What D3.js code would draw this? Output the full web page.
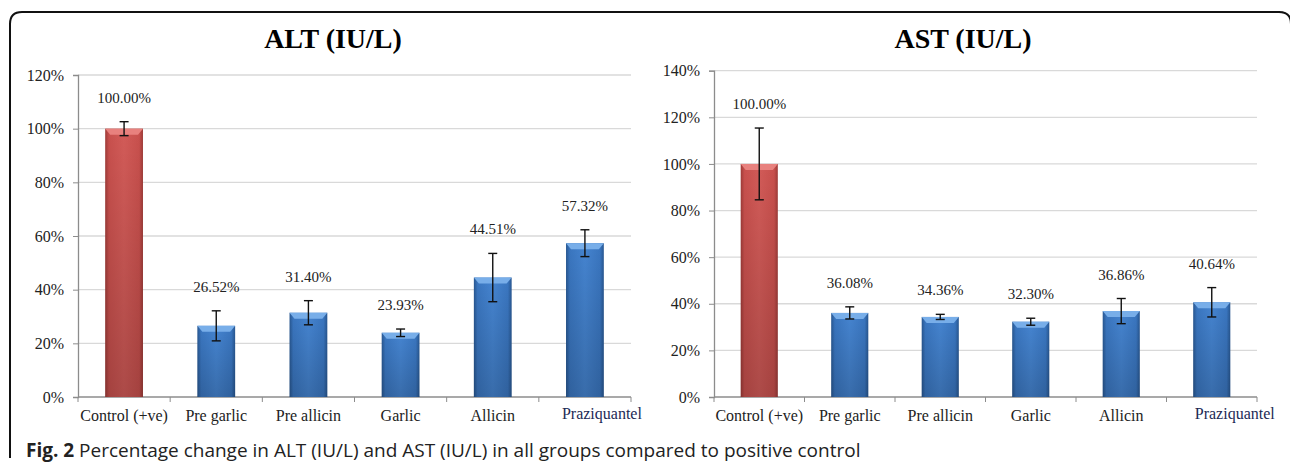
<!DOCTYPE html>
<html>
<head>
<meta charset="utf-8">
<script src="https://cdn.jsdelivr.net/npm/d3@7"></script>
<style>
  body { margin: 0; background: #fff; }
  svg { display: block; }
</style>
</head>
<body>
<div id="chart-area"></div>
<script>
// data
const groups = ['Control (+ve)', 'Pre garlic', 'Pre allicin', 'Garlic', 'Allicin', 'Praziquantel'];
const altValues = [100, 26.52, 31.40, 23.93, 44.51, 57.32];
const altErrors = [2.6, 5.6, 4.5, 1.4, 9.0, 5.0];
const astValues = [100, 36.08, 34.36, 32.30, 36.86, 40.64];
const astErrors = [15.4, 2.6, 1.1, 1.5, 5.4, 6.3];
const altTicks = [0, 20, 40, 60, 80, 100, 120];
const astTicks = [0, 20, 40, 60, 80, 100, 120, 140];

const width = 1290, height = 467;
const serif = '"Liberation Serif", "Times New Roman", serif';

let svg = d3.select('#chart-area')
  .append('svg')
  .attr('width', width)
  .attr('height', height)

// gradients for the bevelled bars
let defs = svg.append('defs')
function sideGrad(id, edge, mid, center) {
  let g = defs.append('linearGradient').attr('id', id)
    .attr('x1', 0).attr('x2', 1).attr('y1', 0).attr('y2', 0)
  ;[[0, edge], [0.1, mid], [0.5, center], [0.9, mid], [1, edge]].forEach(s =>
    g.append('stop').attr('offset', s[0]).attr('stop-color', s[1]))
}
sideGrad('redGrad', '#9e3b38', '#c8504d', '#d25b58')
sideGrad('blueGrad', '#285791', '#3a76c0', '#4584d0')
let shade = defs.append('linearGradient').attr('id', 'shade')
  .attr('x1', 0).attr('x2', 0).attr('y1', 0).attr('y2', 1)
shade.append('stop').attr('offset', 0).attr('stop-color', '#000').attr('stop-opacity', 0)
shade.append('stop').attr('offset', 1).attr('stop-color', '#000').attr('stop-opacity', 0.18)

// outer frame (open at the bottom, right side just off the edge)
svg.append('path')
  .attr('d', 'M10,458 L10,24 Q10,12 22,12 L1279,12 Q1291,12 1291,24 L1291,467')
  .attr('fill', 'none')
  .attr('stroke', '#111')
  .attr('stroke-width', 2)

function panel(opts) {
  let g = svg.append('g')

  let x = d3.scaleBand()
    .domain(groups)
    .range(opts.xRange)
    .paddingInner(0.59)
    .paddingOuter(0.295)
  let step = (opts.xRange[1] - opts.xRange[0]) / groups.length

  let y = d3.scaleLinear()
    .domain([0, d3.max(opts.ticks)])
    .range(opts.yRange)

  // title
  g.append('text')
    .attr('x', opts.titleX).attr('y', 48)
    .attr('text-anchor', 'middle')
    .style('font', `bold 28px ${serif}`)
    .text(opts.title)

  // gridlines
  g.selectAll('.grid')
    .data(opts.ticks.filter(t => t > 0))
    .join('line')
    .attr('x1', opts.xRange[0]).attr('x2', opts.xRange[1])
    .attr('y1', d => y(d)).attr('y2', d => y(d))
    .attr('stroke', '#d9d9d9')
    .attr('stroke-width', 1.3)

  // y axis
  let yAxis = g.append('g')
    .attr('transform', `translate(${opts.xRange[0]},0)`)
    .call(d3.axisLeft(y).tickValues(opts.ticks).tickFormat(d => d + '%').tickSize(5).tickPadding(9))
    .attr('font-family', serif)
  yAxis.select('.domain').attr('stroke', '#8c8c8c').attr('stroke-width', 1.3)
  yAxis.selectAll('.tick line').attr('stroke', '#8c8c8c')
  yAxis.selectAll('.tick text')
    .style('font-family', serif)
    .style('font-size', '16px')
    .attr('fill', '#222')

  // x axis line + boundary ticks
  let y0 = y(0)
  g.append('line')
    .attr('x1', opts.xRange[0]).attr('x2', opts.xRange[1])
    .attr('y1', y0).attr('y2', y0)
    .attr('stroke', '#8c8c8c').attr('stroke-width', 1.3)
  g.selectAll('.xtick')
    .data(d3.range(groups.length + 1))
    .join('line')
    .attr('x1', i => opts.xRange[0] + i * step)
    .attr('x2', i => opts.xRange[0] + i * step)
    .attr('y1', y0).attr('y2', y0 + 5)
    .attr('stroke', '#8c8c8c')

  // category labels
  g.selectAll('.xlab')
    .data(groups)
    .join('text')
    .attr('x', d => x(d) + x.bandwidth() / 2 + (d === 'Praziquantel' ? opts.lastShift : 0))
    .attr('y', d => d === 'Praziquantel' ? y0 + 22 : y0 + 24)
    .attr('text-anchor', 'middle')
    .attr('fill', d => d === 'Praziquantel' ? '#1c2a55' : '#222')
    .style('font', `16px ${serif}`)
    .text(d => d)

  let rows = groups.map((d, i) => ({ name: d, value: opts.values[i], err: opts.errors[i], i: i }))

  let bar = g.selectAll('.bar')
    .data(rows)
    .join('g')

  bar.append('rect')
    .attr('x', d => x(d.name))
    .attr('y', d => y(d.value))
    .attr('width', x.bandwidth())
    .attr('height', d => y0 - y(d.value))
    .attr('fill', d => d.i === 0 ? 'url(#redGrad)' : 'url(#blueGrad)')
  bar.append('rect')
    .attr('x', d => x(d.name))
    .attr('y', d => y(d.value))
    .attr('width', x.bandwidth())
    .attr('height', d => y0 - y(d.value))
    .attr('fill', 'url(#shade)')
  // top bevel
  bar.append('path')
    .attr('d', d => {
      let l = x(d.name), r = l + x.bandwidth(), t = y(d.value)
      return `M${l},${t}L${r},${t}L${r - 5},${t + 6}L${l + 5},${t + 6}Z`
    })
    .attr('fill', d => d.i === 0 ? '#e8817e' : '#78aee9')

  // error bars
  let cx = d => x(d.name) + x.bandwidth() / 2
  bar.append('line')
    .attr('x1', cx).attr('x2', cx)
    .attr('y1', d => y(d.value + d.err)).attr('y2', d => y(d.value - d.err))
    .attr('stroke', '#111').attr('stroke-width', 1.4)
  ;[1, -1].forEach(s => {
    bar.append('line')
      .attr('x1', d => cx(d) - 4.5).attr('x2', d => cx(d) + 4.5)
      .attr('y1', d => y(d.value + s * d.err)).attr('y2', d => y(d.value + s * d.err))
      .attr('stroke', '#111').attr('stroke-width', 1.4)
  })

  // value labels
  bar.append('text')
    .attr('x', cx)
    .attr('y', d => y(d.value + d.err) - 19)
    .attr('text-anchor', 'middle')
    .attr('fill', '#222')
    .style('font', `15px ${serif}`)
    .text(d => d.value.toFixed(2) + '%')
}

panel({
  title: 'ALT (IU/L)', titleX: 333,
  values: altValues, errors: altErrors, ticks: altTicks,
  xRange: [78, 631], yRange: [397, 75], lastShift: 17
})
panel({
  title: 'AST (IU/L)', titleX: 963,
  values: astValues, errors: astErrors, ticks: astTicks,
  xRange: [714, 1257], yRange: [397, 70.7], lastShift: 23
})

// caption
let cap = svg.append('text')
  .attr('x', 26).attr('y', 457)
  .style('font', '19px "Open Sans", "Noto Sans", sans-serif')
  .attr('fill', '#222')
cap.append('tspan').style('font-weight', 'bold').text('Fig. 2')
cap.append('tspan').text(' Percentage change in ALT (IU/L) and AST (IU/L) in all groups compared to positive control')
</script>
</body>
</html>
